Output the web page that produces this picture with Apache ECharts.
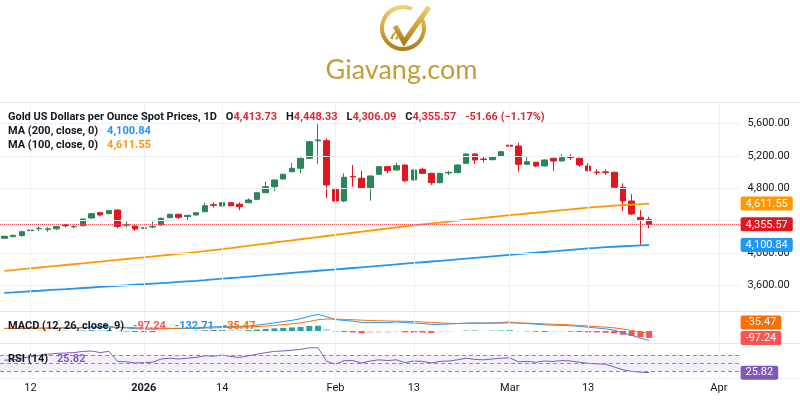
<!DOCTYPE html>
<html><head><meta charset="utf-8">
<script src="https://cdn.jsdelivr.net/npm/echarts@6/dist/echarts.min.js"></script>
<style>html,body{margin:0;padding:0;background:#fff;}#c{width:800px;height:400px;}</style>
</head><body><div id="c"></div>
<script>
const dates = [
'2025-12-09','2025-12-10','2025-12-11','2025-12-12','2025-12-15','2025-12-16','2025-12-17','2025-12-18','2025-12-19','2025-12-22',
'2025-12-23','2025-12-24','2025-12-26','2025-12-29','2025-12-30','2025-12-31','2026-01-01','2026-01-02','2026-01-05','2026-01-06',
'2026-01-07','2026-01-08','2026-01-09','2026-01-12','2026-01-13','2026-01-14','2026-01-15','2026-01-16','2026-01-19','2026-01-20',
'2026-01-21','2026-01-22','2026-01-23','2026-01-26','2026-01-27','2026-01-28','2026-01-29','2026-01-30','2026-02-02','2026-02-03',
'2026-02-04','2026-02-05','2026-02-06','2026-02-09','2026-02-10','2026-02-11','2026-02-12','2026-02-13','2026-02-16','2026-02-17',
'2026-02-18','2026-02-19','2026-02-20','2026-02-23','2026-02-24','2026-02-25','2026-02-26','2026-02-27','2026-03-02','2026-03-03',
'2026-03-04','2026-03-05','2026-03-06','2026-03-09','2026-03-10','2026-03-11','2026-03-12','2026-03-13','2026-03-16','2026-03-17',
'2026-03-18','2026-03-19','2026-03-20','2026-03-23','2026-03-24'];
const futureDates = ['2026-03-25','2026-03-26','2026-03-27','2026-03-28','2026-03-29','2026-03-30','2026-03-31','2026-04-01','2026-04-02','2026-04-03'];

const opens = [4185,4205,4218,4278,4303,4294,4300,4348,4325,4338,
4434,4499,4487,4532,4345,4335,4308,4323,4348,4438,
4479,4452,4471,4511,4597,4582,4622,4603,4622,4664,
4745,4819,4914,5004,5046,5169,5385,5386,4787,4643,
4945,4923,4800,4972,5066,5025,5086,4902,5033,4984,
4869,4988,4992,5107,5222,5160,5152,5197,5330,5320,
5095,5120,5074,5169,5136,5185,5169,5074,5000,5002,
4997,4812,4643,4442,4413.73];
const closes = [4208,4220,4265,4286,4308,4300,4327,4338,4330,4421,
4487,4471,4524,4330,4350,4298,4313,4330,4430,4479,
4442,4466,4499,4585,4590,4622,4585,4573,4655,4745,
4819,4902,4972,5046,5169,5373,5395,4840,4643,4935,
4940,4800,4951,5066,5016,5078,4893,5025,4984,4869,
4984,4996,5086,5222,5148,5155,5184,5250,5318,5095,
5127,5074,5148,5136,5177,5178,5087,5016,4995,4993,
4812,4643,4483,4407.23,4355.57];
const lows = [4178,4195,4203,4248,4274,4265,4290,4320,4307,4332,
4428,4450,4480,4307,4319,4274,4303,4307,4340,4432,
4422,4398,4465,4505,4561,4578,4575,4529,4617,4660,
4740,4766,4908,4995,4984,5160,5095,4676,4401,4630,
4819,4790,4647,4965,4984,5020,4873,4895,4978,4840,
4860,4963,4985,5100,5099,5115,5145,5190,5271,5004,
5090,5058,5070,5013,5130,5148,5066,5010,4963,4963,
4805,4520,4470,4098,4306.09];
const highs = [4215,4228,4275,4348,4327,4320,4333,4360,4348,4426,
4495,4511,4535,4540,4388,4340,4318,4388,4440,4485,
4485,4475,4505,4622,4627,4630,4628,4627,4676,4750,
4881,4910,4980,5107,5175,5380,5588,5415,4881,4984,
5086,5016,4960,5075,5072,5115,5095,5030,5053,4990,
4990,5016,5095,5228,5230,5197,5190,5258,5403,5361,
5197,5125,5155,5175,5222,5218,5175,5107,5034,5034,
5004,4861,4726,4532,4448.33];

const ma200 = [3512,3518,3525,3532,3538,3545,3552,3558,3565,3572,
3578,3585,3592,3598,3605,3612,3618,3625,3632,3639,
3646,3653,3660,3668,3677,3686,3695,3703,3712,3721,
3730,3739,3748,3757,3766,3775,3784,3792,3800,3809,
3818,3827,3836,3845,3854,3862,3871,3880,3889,3898,
3907,3916,3925,3934,3943,3952,3961,3970,3979,3988,
3997,4006,4015,4024,4033,4042,4051,4059,4067,4074,
4080,4086,4091,4096,4100.84];
const ma100 = [3782,3792,3803,3813,3824,3834,3845,3855,3866,3876,
3887,3897,3908,3918,3929,3939,3950,3960,3971,3981,
3992,4002,4013,4025,4038,4051,4064,4078,4091,4105,
4118,4132,4145,4158,4172,4185,4199,4212,4225,4239,
4252,4265,4279,4292,4305,4318,4331,4343,4355,4367,
4378,4390,4401,4413,4424,4435,4446,4457,4468,4478,
4489,4499,4510,4520,4531,4541,4551,4561,4570,4578,
4586,4593,4599,4605,4611.55];

const macdLine = [38,36,37,40,42,42,44,45,44,50,
58,60,64,50,42,33,27,24,29,35,
36,38,42,52,58,64,66,65,70,82,
98,115,132,150,172,205,232,200,160,148,
138,120,116,118,116,128,118,112,104,92,
94,98,104,112,114,112,114,118,126,110,
104,96,86,82,80,74,64,52,42,30,
12,-24,-62,-100,-132.71];
const signalLine = [36,36,36,37,38,39,40,41,42,43,
46,49,52,52,50,47,43,40,38,37,
37,37,38,41,44,48,51,54,57,62,
69,78,88,100,115,133,158,168,166,162,
158,152,147,143,140,138,136,132,126,120,
113,108,105,106,107,108,109,111,114,112,
110,106,100,94,90,84,78,70,62,54,
44,28,8,-14,-35.47];
const histogram = [2,0,1,3,4,3,4,4,2,7,
12,11,12,-2,-8,-14,-16,-16,-9,-2,
-1,1,4,11,14,16,15,11,13,20,
29,37,44,50,57,72,74,32,-6,-14,
-20,-32,-31,-25,-24,-10,-18,-20,-22,-28,
-19,-10,-1,6,7,4,5,7,12,-2,
-6,-10,-14,-12,-10,-10,-14,-18,-20,-24,
-32,-52,-70,-86,-97.24];
const rsi = [57,58,62,66,69,72,74,75,76,79,
80,76,79,54,53,50,51,52,60,62,
60,62,64,68,67,70,66,64,68,72,
76,79,80,82,84,88,88,54,47,56,
56,50,55,58,56,58,51,55,54,50,
54,55,58,62,59,58,60,62,63,53,
54,52,55,54,56,55,52,49,48,47,
40,33,29,27,25.82];

const tickDates = ['2025-12-12','2026-01-01','2026-01-14','2026-02-02','2026-02-13','2026-03-02','2026-03-13','2026-04-01'];
const tickTexts = ['12','2026','14','Feb','13','Mar','13','Apr'];
const priceTicks = [3600,4000,4400,4800,5200,5600];
const rsiLevels = [70,50,30];

const FONT = 'Roboto';
const TXT = '#131722';
const GRID = '#eef0f4';
const UP = '#2a8558', DOWN = '#e3161f';
const fmt = v => v.toLocaleString('en-US',{minimumFractionDigits:2, maximumFractionDigits:2});
const last = closes.length - 1;
const chg = closes[last] - closes[last-1];
const pct = chg / closes[last-1] * 100;
const chgText = (chg < 0 ? '-' : '+') + fmt(Math.abs(chg)) + ' (' + (pct < 0 ? '\u2212' : '+') + Math.abs(pct).toFixed(2) + '%)';
const allDates = dates.concat(futureDates);

const candleData = opens.map((o,i) => [o, closes[i], lows[i], highs[i]]);
const histData = histogram.map((v,i) => {
  const p = i > 0 ? histogram[i-1] : v;
  let c;
  if (v >= 0) c = v >= p ? '#26a69a' : '#b2dfdb';
  else c = v <= p ? '#ff5252' : '#ffcdd2';
  return {value: v, itemStyle: {color: c}};
});

// price tags on the right scale (value -> style)
const tagValues = [ma100[last], closes[last], ma200[last]];
const tagKeys = ['o', 'r', 'b'];
const tagBox = bg => ({backgroundColor: bg, color: '#fff', padding: [2,5,1,5], borderRadius: 2, fontSize: 11, fontFamily: FONT});

const vGrid = tickDates.map(d => ({xAxis: d, lineStyle: {color: GRID, width: 1, type: 'solid'}}));
const tag = (bg, text, extra) => Object.assign({
  show: true, position: 'end', distance: 0, formatter: () => text,
  color: '#fff', backgroundColor: bg, padding: [2,5,1,5], fontSize: 11, fontFamily: FONT, borderRadius: 2
}, extra || {});
const hidden = {color: 'rgba(0,0,0,0)', width: 0};

const gold = new echarts.graphic.LinearGradient(0,0,0,1,[{offset:0,color:'#f3d477'},{offset:0.5,color:'#d6a63a'},{offset:1,color:'#a9761d'}]);

const rich = {
  k: {color: TXT, fontSize: 11, fontFamily: FONT, lineHeight: 14},
  r: {color: '#e0262f', fontSize: 11, fontFamily: FONT, lineHeight: 14},
  b: {color: '#2196f3', fontSize: 11, fontFamily: FONT, lineHeight: 14},
  o: {color: '#ff9800', fontSize: 11, fontFamily: FONT, lineHeight: 14},
  oo: {color: '#ff6d00', fontSize: 11, fontFamily: FONT, lineHeight: 14},
  rr: {color: '#ff5252', fontSize: 11, fontFamily: FONT, lineHeight: 14},
  p: {color: '#7e57c2', fontSize: 11, fontFamily: FONT, lineHeight: 14}
};

const chart = echarts.init(document.getElementById('c'), null, {renderer: 'canvas'});
const xBase = (gi, showLabel) => ({
  type: 'category', gridIndex: gi, data: allDates, boundaryGap: true,
  axisLine: {show: false}, axisTick: {show: false}, splitLine: {show: false},
  axisLabel: showLabel ? {
    show: true, interval: (i, v) => tickDates.indexOf(v) >= 0, margin: 5,
    formatter: v => { const k = tickDates.indexOf(v); if (k < 0) return ''; return tickTexts[k] === '2026' ? '{b|2026}' : tickTexts[k]; },
    color: TXT, fontSize: 11, fontFamily: FONT,
    rich: {b: {fontWeight: 'bold', color: TXT, fontSize: 11, fontFamily: FONT}}
  } : {show: false}
});

chart.setOption({
  animation: false,
  textStyle: {fontFamily: FONT},
  title: [
    {left: 8, top: 108, padding: 0, text: `{k|Gold US Dollars per Ounce Spot Prices, 1D}  {k|O}{r|${fmt(opens[last])}}  {k|H}{r|${fmt(highs[last])}}  {k|L}{r|${fmt(lows[last])}}  {k|C}{r|${fmt(closes[last])}}  {r|${chgText}}`, textStyle: {rich}},
    {left: 8, top: 122, padding: 0, text: `{k|MA (200, close, 0)}  {b|${fmt(ma200[last])}}`, textStyle: {rich}},
    {left: 8, top: 136, padding: 0, text: `{k|MA (100, close, 0)}  {o|${fmt(ma100[last])}}`, textStyle: {rich}},
    {left: 8, top: 317, padding: 0, text: `{k|MACD (12, 26, close, 9)}  {rr|${fmt(histogram[last])}}  {b|${fmt(macdLine[last])}}  {oo|${fmt(signalLine[last])}}`, textStyle: {rich}},
    {left: 8, top: 350, padding: 0, text: `{k|RSI (14)}  {p|${fmt(rsi[last])}}`, textStyle: {rich}}
  ],
  grid: [
    {left: -1, top: 103, width: 741.6, height: 208},
    {left: -1, top: 312, width: 741.6, height: 32},
    {left: -1, top: 344, width: 741.6, height: 34}
  ],
  xAxis: [xBase(0, false), xBase(1, false), xBase(2, true)],
  yAxis: [
    {type: 'value', gridIndex: 0, position: 'right', min: 3288.5, max: 5850, z: 0,
     axisLine: {show: false}, axisTick: {show: false}, splitLine: {show: false},
     axisLabel: {show: true, customValues: priceTicks, margin: 7, color: TXT, fontSize: 11, fontFamily: FONT,
       formatter: v => tagValues.some(t => Math.abs(t - v) < 60) ? '' : fmt(v)}},
    {type: 'value', gridIndex: 1, position: 'right', min: -182, max: 266, show: false, splitLine: {show: false}},
    {type: 'value', gridIndex: 2, position: 'right', min: 12.5, max: 97.5, show: false, splitLine: {show: false}},
    {type: 'value', gridIndex: 0, position: 'right', min: 3288.5, max: 5850, z: 20, offset: 0,
     axisLine: {show: false}, axisTick: {show: false}, splitLine: {show: false},
     axisLabel: {show: true, customValues: tagValues, margin: 0, hideOverlap: false,
       formatter: v => { let k = 0, d = Infinity; tagValues.forEach((t,i) => { if (Math.abs(t - v) < d) { d = Math.abs(t - v); k = i; } }); return '{' + tagKeys[k] + '|' + fmt(tagValues[k]) + '}'; },
       rich: {o: tagBox('#ff9800'), r: tagBox(DOWN), b: tagBox('#2196f3')}}}
  ],
  series: [
    {type: 'candlestick', xAxisIndex: 0, yAxisIndex: 0, data: candleData, barWidth: 6,
     itemStyle: {color: UP, color0: DOWN, borderColor: UP, borderColor0: DOWN, borderWidth: 1},
     markLine: {silent: true, symbol: ['none','none'], animation: false, label: {show: false},
       data: vGrid.concat(priceTicks.map(v => ({yAxis: v, lineStyle: {color: GRID, width: 1, type: 'solid'}})))
         .concat([{yAxis: closes[last], lineStyle: {color: '#ea4a52', width: 1, type: 'dotted'}}])}
    },
    {type: 'line', xAxisIndex: 0, yAxisIndex: 0, data: ma200, showSymbol: false, lineStyle: {color: '#2196f3', width: 1.8}, z: 3},
    {type: 'line', xAxisIndex: 0, yAxisIndex: 0, data: ma100, showSymbol: false, lineStyle: {color: '#ff9800', width: 1.8}, z: 3},
    {type: 'bar', xAxisIndex: 1, yAxisIndex: 1, data: histData, barWidth: 6,
     markLine: {silent: true, symbol: ['none','none'], label: {show: false},
       data: vGrid.concat([{yAxis: histogram[last], lineStyle: hidden, label: tag('#ff5252', fmt(histogram[last]))}])}},
    {type: 'line', xAxisIndex: 1, yAxisIndex: 1, data: macdLine, showSymbol: false, lineStyle: {color: '#2196f3', width: 1}},
    {type: 'line', xAxisIndex: 1, yAxisIndex: 1, data: signalLine, showSymbol: false, lineStyle: {color: '#ff6d00', width: 1},
     markLine: {silent: true, symbol: ['none','none'], data: [{yAxis: signalLine[last], lineStyle: hidden, label: tag('#ff6d00', fmt(signalLine[last]), {offset: [0,-11]})}]}},
    {type: 'line', xAxisIndex: 2, yAxisIndex: 2, data: rsi, showSymbol: false, lineStyle: {color: '#7e57c2', width: 1},
     markArea: {silent: true, itemStyle: {color: 'rgba(126,87,194,0.09)'}, data: [[{yAxis: rsiLevels[2]}, {yAxis: rsiLevels[0]}]]},
     markLine: {silent: true, symbol: ['none','none'], label: {show: false},
       data: vGrid.concat(rsiLevels.map(v => ({yAxis: v, lineStyle: {color: '#8c8f99', width: 1, type: [4,3]}})))
         .concat([{yAxis: rsi[last], lineStyle: hidden, label: tag('#7e57c2', fmt(rsi[last]))}])}}
  ],
  graphic: [
    {type: 'line', silent: true, shape: {x1: 0, y1: 102.5, x2: 800, y2: 102.5}, style: {stroke: '#e3e6ec', lineWidth: 1}},
    {type: 'line', silent: true, shape: {x1: 0, y1: 311.5, x2: 800, y2: 311.5}, style: {stroke: '#e3e6ec', lineWidth: 1}},
    {type: 'line', silent: true, shape: {x1: 0, y1: 343.5, x2: 800, y2: 343.5}, style: {stroke: '#e3e6ec', lineWidth: 1}},
    {type: 'line', silent: true, shape: {x1: 0, y1: 378.5, x2: 800, y2: 378.5}, style: {stroke: '#eceef2', lineWidth: 1}},
    {type: 'arc', silent: true, shape: {cx: 403, cy: 28, r: 21, startAngle: -0.45, endAngle: 5.15}, style: {stroke: gold, lineWidth: 4, fill: null}},
    {type: 'arc', silent: true, shape: {cx: 403, cy: 41, r: 7, startAngle: 3.4, endAngle: 4.25}, style: {stroke: gold, lineWidth: 2.2, fill: null}},
    {type: 'arc', silent: true, shape: {cx: 403, cy: 41, r: 11.5, startAngle: 3.3, endAngle: 4.25}, style: {stroke: gold, lineWidth: 2.2, fill: null}},
    {type: 'polyline', silent: true, shape: {points: [[395,26],[404,42],[429,7]]}, style: {stroke: gold, lineWidth: 5, fill: null, lineJoin: 'miter'}},
    {type: 'text', silent: true, x: 401.5, y: 70, style: {text: 'Giavang.com', font: '27px Lato', fill: '#c79c37', align: 'center', verticalAlign: 'middle'}}
  ]
});
</script></body></html>
